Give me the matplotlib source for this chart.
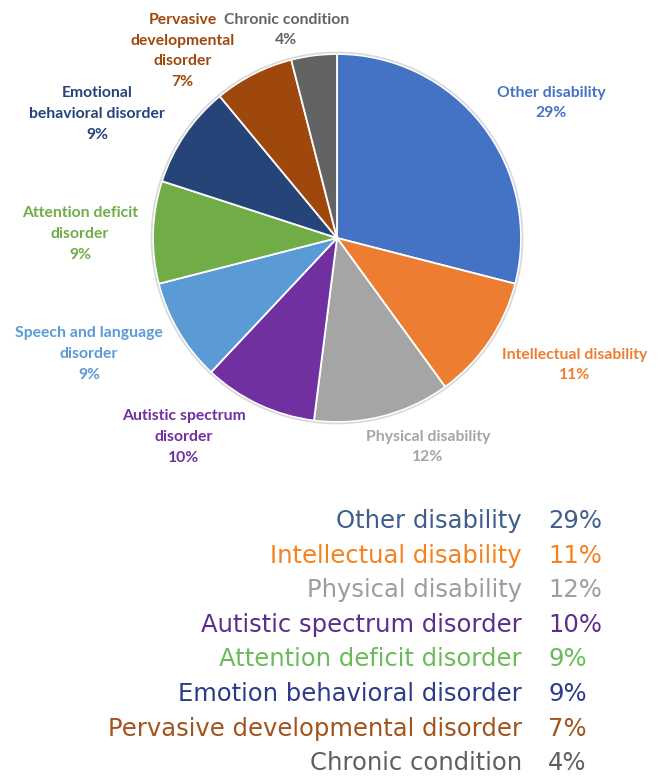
import matplotlib.pyplot as plt
from matplotlib.patches import Circle

# Доли учащихся по категориям инвалидности
categories = ['Other disability', 'Intellectual disability', 'Physical disability',
              'Autistic spectrum disorder', 'Speech and language disorder',
              'Attention deficit disorder', 'Emotional behavioral disorder',
              'Pervasive developmental disorder', 'Chronic condition']
shares = [29, 11, 12, 10, 9, 9, 9, 7, 4]

# Подписи на круговой диаграмме (с переносами строк)
pie_labels = ['Other disability', 'Intellectual disability', 'Physical disability',
              'Autistic spectrum\ndisorder', 'Speech and language\ndisorder',
              'Attention deficit\ndisorder', 'Emotional\nbehavioral disorder',
              'Pervasive\ndevelopmental\ndisorder', 'Chronic condition']

# Подписи в списке под диаграммой
list_labels = ['Other disability', 'Intellectual disability', 'Physical disability',
               'Autistic spectrum disorder', 'Attention deficit disorder',
               'Emotion behavioral disorder', 'Pervasive developmental disorder',
               'Chronic condition']
list_values = [29, 11, 12, 10, 9, 9, 7, 4]

slice_colors = ['#4472C4', '#ED7D31', '#A5A5A5', '#7030A0', '#5B9BD5',
                '#70AD47', '#264478', '#9E480E', '#636363']
list_colors = ['#3E5F8E', '#F5821F', '#9D9D9D', '#5C2D91', '#6CBB5A',
               '#2E3B8B', '#A3531C', '#5F5F5F']

# Положения подписей в радиусах круга относительно центра
label_pos = [(1.163, 0.734), (1.293, -0.690), (0.495, -1.136), (-0.832, -1.082),
             (-1.348, -0.630), (-1.397, 0.022), (-1.304, 0.674), (-0.840, 1.016),
             (-0.275, 1.130)]

W, H = 662, 776
fig = plt.figure(figsize=(W / 100, H / 100), dpi=100)
ax = fig.add_axes([0, 0, 1, 1])

cx, cy, r = 337, H - 238, 184
ax.pie(shares, colors=slice_colors, startangle=90, counterclock=False,
       center=(cx, cy), radius=r,
       wedgeprops=dict(edgecolor='white', linewidth=1.3))
ax.add_patch(Circle((cx, cy), r + 1.5, fill=False, edgecolor='#D9D9D9', linewidth=1.2))

for lab, val, col, (px, py) in zip(pie_labels, shares, slice_colors, label_pos):
    ax.text(cx + px * r, cy + py * r, f'{lab}\n{val}%', color=col,
            ha='center', va='center', fontsize=11.3, fontweight='bold',
            family=['Lato', 'DejaVu Sans'], linespacing=1.6)

# Список категорий с процентами
row_y0, row_step = H - 521, 34.6
for i, (lab, val, col) in enumerate(zip(list_labels, list_values, list_colors)):
    y = row_y0 - i * row_step
    ax.text(522, y, lab, color=col, ha='right', va='center', fontsize=17.5,
            family='DejaVu Sans')
    ax.text(548, y, f'{val}%', color=col, ha='left', va='center', fontsize=17.5,
            family='DejaVu Sans')

ax.set_xlim(0, W)
ax.set_ylim(0, H)
ax.set_aspect('equal')
ax.axis('off')

plt.savefig('out.png', dpi=100)
